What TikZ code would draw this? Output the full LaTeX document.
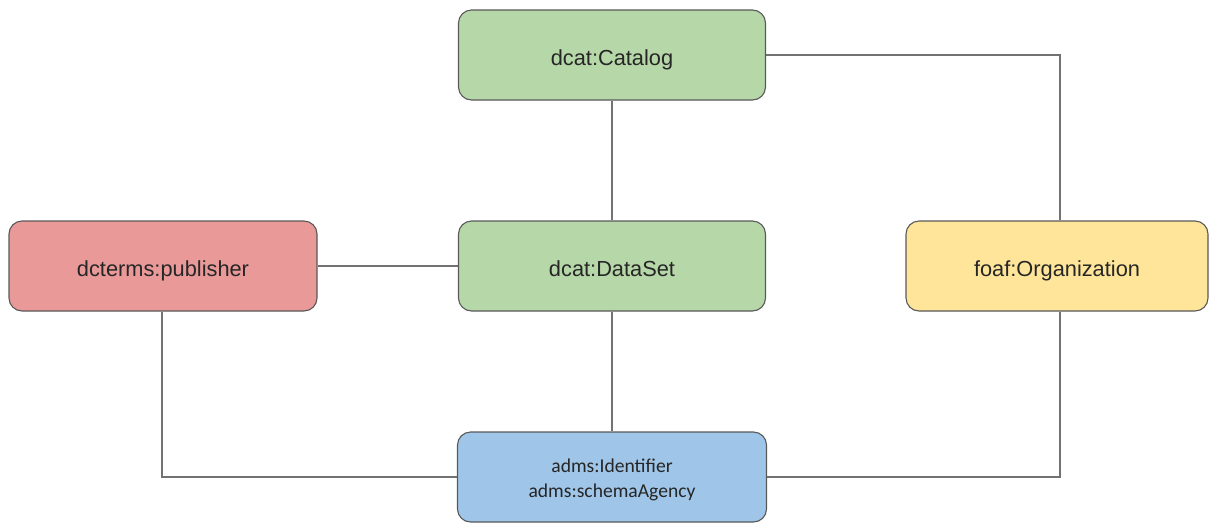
\documentclass[tikz,border=0pt]{standalone}
\usepackage{fontspec}
\setmainfont{Liberation Sans}
\newfontfamily\calib{Carlito}
\definecolor{gfill}{HTML}{B6D7A8}
\definecolor{rfill}{HTML}{EA9999}
\definecolor{yfill}{HTML}{FFE599}
\definecolor{bfill}{HTML}{9FC5E8}
\definecolor{edgec}{HTML}{595959}
\begin{document}
\begin{tikzpicture}[x=1pt,y=-1pt,
  box/.style={draw=edgec, line width=1.1pt, rounded corners=13pt, minimum height=90pt, inner sep=0pt, text height=20pt, text depth=0pt, font=\fontsize{21.8pt}{26pt}\selectfont, text=black!85},
  idtext/.style={font=\calib\fontsize{19.6pt}{25pt}\selectfont, align=center, text=black!85, inner sep=0pt, yshift=-3pt},
  conn/.style={draw=edgec!85, line width=1.1pt}]
\useasboundingbox (0,0) rectangle (1210,523);
\node[box, fill=gfill, minimum width=307pt] (cat) at (612,55) {dcat:Catalog};
\node[box, fill=rfill, minimum width=308pt] (pub) at (163,266) {dcterms:publisher};
\node[box, fill=gfill, minimum width=307pt] (ds) at (612,266) {dcat:DataSet};
\node[box, fill=yfill, minimum width=302pt] (org) at (1057,266) {foaf:Organization};
\node[box, fill=bfill, minimum width=309pt, label={[idtext]center:adms:Identifier\\adms:schemaAgency}] (id) at (612,477) {};
\coordinate (c1) at (1060,55);
\coordinate (c2) at (162,477);
\coordinate (c3) at (1060,477);
\draw[conn] (cat.south) -- (ds.north);
\draw[conn] (ds.south) -- (id.north);
\draw[conn] (pub.east) -- (ds.west);
\draw[conn] (cat.east) -- (c1) -- (c1 |- org.north);
\draw[conn] (c2 |- pub.south) -- (c2) -- (id.west);
\draw[conn] (c3 |- org.south) -- (c3) -- (id.east);
\end{tikzpicture}
\end{document}
